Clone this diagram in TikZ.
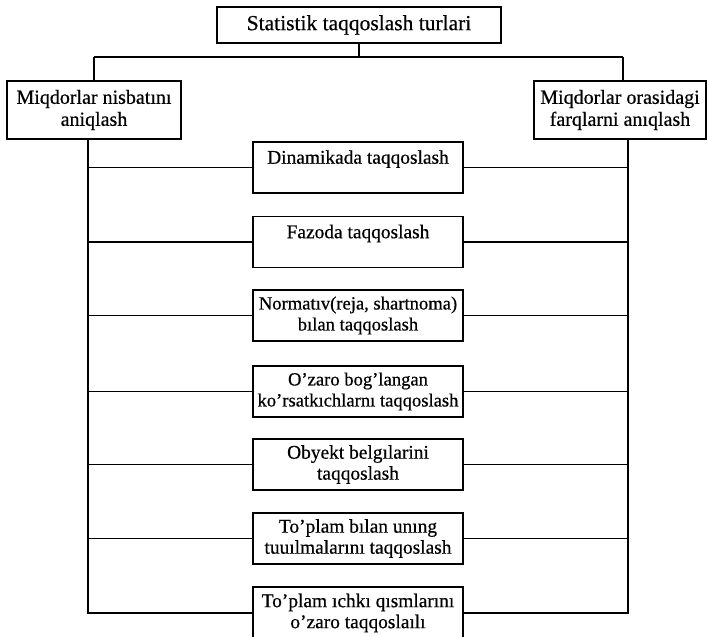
\documentclass[tikz,border=0pt]{standalone}
\usepackage{fontspec}
\setmainfont{Liberation Serif}[FakeBold=0.5]
\begin{document}
\begin{tikzpicture}[x=1pt,y=-1pt,line width=1.6pt,
  box/.style={draw,line width=1.6pt,inner sep=0pt,align=center},
  titlebox/.style={box,minimum width=284pt,minimum height=36pt,font=\fontsize{21.5}{23}\selectfont},
  sidebox/.style={box,minimum height=58pt,font=\fontsize{20}{22}\selectfont},
  kindbox/.style={box,minimum width=210pt,minimum height=51pt,font=\fontsize{19.4}{21}\selectfont},
  tightkind/.style={kindbox,font=\fontsize{18.6}{21}\selectfont},
  link/.style={draw,line width=1.6pt}]
\clip (0,0) rectangle (708,636);
\fill[white] (0,0) rectangle (708,636);
% title and side boxes
\node[titlebox] (title) at (359,25) {Statistik taqqoslash turlari};
\node[sidebox,minimum width=174pt] (left) at (94,110) {Miqdorlar nisbatını\\aniqlash};
\node[sidebox,minimum width=172pt] (right) at (620,110) {Miqdorlar orasidagi\\farqlarni anıqlash};
% kinds
\node[kindbox] (b1) at (358,167.5) {Dinamikada taqqoslash\\~};
\node[kindbox] (b2) at (358,242) {Fazoda taqqoslash\\~};
\node[tightkind] (b3) at (358,315.5) {Normatıv(reja, shartnoma)\\bılan taqqoslash};
\node[tightkind] (b4) at (358,391.5) {O’zaro bog’langan\\ko’rsatkıchlarnı taqqoslash};
\node[kindbox] (b5) at (358,464.5) {Obyekt belgılarini\\taqqoslash};
\node[kindbox] (b6) at (358,538.5) {To’plam bılan unıng\\tuuılmalarını taqqoslash};
\node[kindbox,minimum height=52pt] (b7) at (358,613) {To’plam ıchkı qısmlarını\\o’zaro taqqoslaılı};
% top bus
\coordinate (jL) at (94,57);
\coordinate (jR) at (623,57);
\coordinate (tL) at (88,0);
\coordinate (tR) at (628,0);
\draw[link] (title.south) -- (title.south |- jL);
\draw[link] (jL) -- (jR);
\draw[link] (jL) -- (jL |- left.north);
\draw[link] (jR) -- (jR |- right.north);
% trunks
\draw[link] (tL |- left.south) -- (tL |- b7.west) -- (b7.west);
\draw[link] (tR |- right.south) -- (tR |- b7.east) -- (b7.east);
\foreach \k in {1,...,6}{
  \draw[link] (tL |- b\k.west) -- (b\k.west);
  \draw[link] (b\k.east) -- (tR |- b\k.east);
}
\end{tikzpicture}
\end{document}
